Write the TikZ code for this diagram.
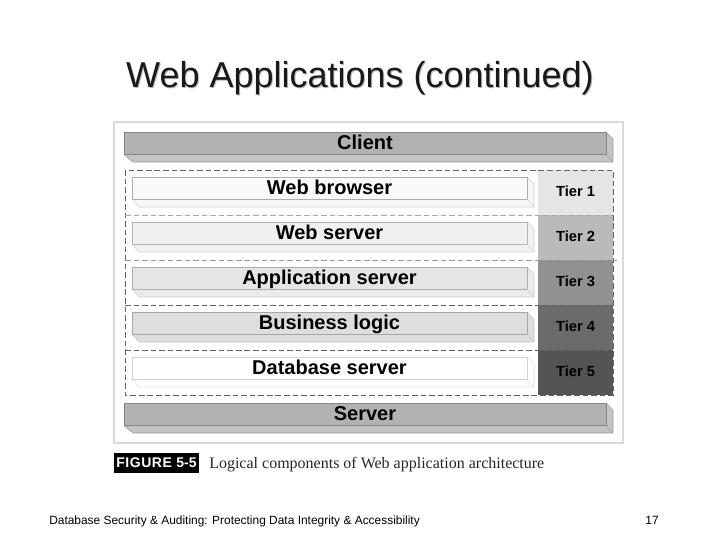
\documentclass[tikz,border=0pt]{standalone}
\usepackage{fontspec}
\setmainfont{Liberation Sans}
\newfontfamily\capfont{Liberation Serif}
\definecolor{barF}{gray}{0.70}
\definecolor{barB}{gray}{0.77}
\definecolor{barL}{gray}{0.52}
\definecolor{barLs}{gray}{0.62}
\tikzset{
  x=0.75pt,y=-0.75pt,
  lab/.style={font=\bfseries\fontsize{15pt}{16pt}\selectfont,text=black,inner sep=0pt,anchor=base},
  tierlab/.style={font=\bfseries\fontsize{11pt}{12pt}\selectfont,text=black,inner sep=0pt,anchor=base},
  dashline/.style={dash pattern=on 4.2pt off 2.2pt,line width=0.6pt,draw=black!62},
}
% #1 top, #2 fill front, #3 fill bevel, #4 edge front, #5 label, #6 name, #7 edge bevel
\newcommand{\innerbar}[7]{%
  \fill[#3] (132,#1+22) -- (527,#1+22) -- (527,#1) -- (534,#1+7) -- (534,#1+30) -- (139,#1+30) -- cycle;
  \draw[#7,line width=0.4pt] (132,#1+22) -- (139,#1+30) -- (534,#1+30) -- (534,#1+7) -- (527,#1);
  \fill[#2] (132,#1) rectangle (527,#1+22);
  \draw[#4,line width=0.5pt] (132,#1) rectangle (527,#1+22);
  \draw[#7,line width=0.4pt] (527,#1+22) -- (534,#1+30);
  \node[lab] (#6) at (329.5,#1+17) {#5};
}
\newcommand{\tierbox}[4]{%
  \fill[#2] (538,#1) rectangle (613,#1+45);
  \node[tierlab] (#4) at (575.5,#1+26.5) {#3};
}
\newcommand{\outerbar}[4]{%
  \fill[barB] (124,#1+22.5) -- (606,#1+22.5) -- (606,#1) -- (613,#1+7) -- (613,#1+30) -- (133,#1+30) -- cycle;
  \draw[barLs,line width=0.5pt] (124,#1+22.5) -- (133,#1+30) -- (613,#1+30) -- (613,#1+7) -- (606,#1);
  \fill[barF] (124,#1) rectangle (606,#1+22.5);
  \draw[barL,line width=0.7pt] (124,#1) rectangle (606,#1+22.5);
  \draw[barLs,line width=0.4pt] (606,#1+22.5) -- (613,#1+30);
  \node[lab] (#2) at (365,#1+#4) {#3};
}
\begin{document}
\begin{tikzpicture}
\useasboundingbox (0,0) rectangle (720,540);
\fill[white] (0,0) rectangle (720,540);
% title with shadow
\node[inner sep=0pt,text=black!28,font=\fontsize{27pt}{30pt}\selectfont,anchor=base] (titleshadow) at (361,88) {Web Applications (continued)};
\node[inner sep=0pt,text=black!90,font=\fontsize{27pt}{30pt}\selectfont,anchor=base] (title) at (360,87) {Web Applications (continued)};
% frame
\draw[black!15,line width=1.5pt] (114,122) rectangle (623,443);
\outerbar{132}{client}{Client}{17.5}
% tiers
\tierbox{170}{black!10}{Tier 1}{t1}
\tierbox{215}{black!27}{Tier 2}{t2}
\tierbox{260}{black!43}{Tier 3}{t3}
\tierbox{305}{black!58}{Tier 4}{t4}
\tierbox{350}{black!67}{Tier 5}{t5}
% inner bars
\innerbar{177}{black!2}{black!3}{black!32}{Web browser}{wb}{black!18}
\innerbar{222}{black!6}{black!5}{black!30}{Web server}{ws}{black!18}
\innerbar{267}{black!10}{black!8}{black!32}{Application server}{as}{black!20}
\innerbar{312}{black!13}{black!13}{black!35}{Business logic}{bl}{black!22}
\innerbar{357}{white}{white}{black!18}{Database server}{ds}{black!12}
% dashed box
\draw[dashline] (125,170) rectangle (613,395);
\draw[dashline,draw=black!35] (125,215) -- (613,215);
\draw[dashline,draw=black!40] (125,260) -- (618,260);
\draw[dashline] (125,305) -- (613,305);
\draw[dashline] (125,350) -- (613,350);
\outerbar{403}{server}{Server}{17}
% caption
\node[fill=black,text=white,minimum width=64pt,minimum height=15pt,inner sep=0pt,font=\bfseries\fontsize{10.5pt}{12pt}\selectfont] (fig) at (156.5,463) {F\kern0.4pt I\kern0.4pt G\kern0.4pt U\kern0.4pt R\kern0.4pt E\kern0.4pt{} 5-5};
\node[anchor=base west,inner sep=0pt,font=\capfont\fontsize{12pt}{14pt}\selectfont,text=black!85] (cap) at (209,468) {Logical components of Web application architecture};
% footer
\node[anchor=base west,inner sep=0pt,font=\fontsize{8.95pt}{11pt}\selectfont] (foot) at (49,524) {Database Security \& Auditing: Protecting Data Integrity \& Accessibility};
\node[anchor=base east,inner sep=0pt,font=\fontsize{8.95pt}{11pt}\selectfont] (page) at (659,524) {17};
\end{tikzpicture}
\end{document}
